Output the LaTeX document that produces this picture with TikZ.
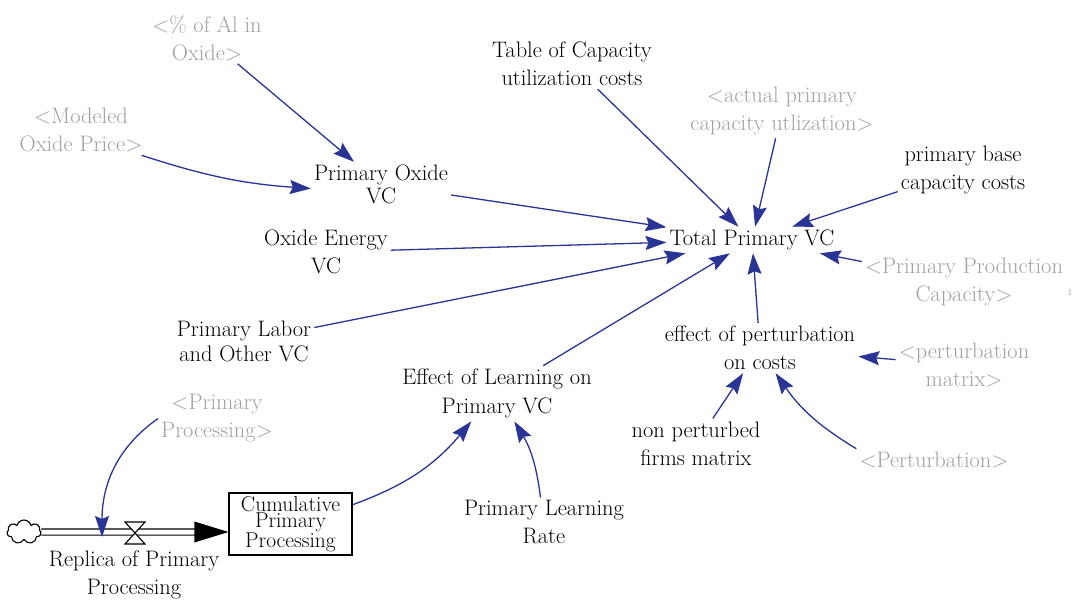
\documentclass[tikz,border=0pt]{standalone}
\usepackage{fontspec}
\setmainfont{Latin Modern Roman}
\usetikzlibrary{arrows.meta,shapes.symbols}
\definecolor{linkblue}{RGB}{42,52,148}
\definecolor{shadowgray}{RGB}{160,160,160}
\tikzset{
  lbl/.style={align=center, font=\fontsize{22.4}{28}\selectfont, inner sep=3pt, text=black},
  shadowlbl/.style={lbl, text=shadowgray},
  link/.style={draw=linkblue, line width=1.3pt, -{Stealth[length=21pt,width=14pt,inset=3pt]}},
  pipe/.style={draw=black, double=white, double distance=5pt, line width=1.1pt},
  stockbox/.style={draw=black, line width=1.2pt, align=center, minimum width=123pt, minimum height=62pt, inner sep=0pt, font=\fontsize{21.5}{16.5}\selectfont}
}
\begin{document}
\begin{tikzpicture}[x=1pt,y=1pt]
\useasboundingbox (0,0) rectangle (1077,-606);

% nodes
\node[shadowlbl] (alox) at (207,-38) {<\% of Al in\\Oxide>};
\node[shadowlbl] (mop) at (81,-130) {<Modeled\\Oxide Price>};
\node[lbl, font=\fontsize{22.4}{23}\selectfont] (pov) at (381,-184.5) {Primary Oxide\\VC};
\node[lbl] (tcap) at (572,-64) {Table of Capacity\\utilization costs};
\node[shadowlbl] (apcu) at (782,-111) {<actual primary\\capacity utlization>};
\node[lbl] (pbc) at (963,-170) {primary base\\capacity costs};
\node[lbl] (tot) at (752,-240) {Total Primary VC};
\node[lbl] (oev) at (326,-252) {Oxide Energy\\VC};
\node[shadowlbl] (ppc) at (964,-281.5) {<Primary Production\\Capacity>};
\node[font=\fontsize{9}{10}\selectfont, text=shadowgray, inner sep=1pt] (one) at (1070,-292) {1};
\node[lbl, font=\fontsize{22.4}{25}\selectfont] (plo) at (244,-341.5) {Primary Labor\\and Other VC};
\node[lbl] (eop) at (760,-348) {effect of perturbation\\on costs};
\node[shadowlbl] (pm) at (964,-365.5) {<perturbation\\matrix>};
\node[lbl, font=\fontsize{22.4}{29}\selectfont] (elp) at (497,-393.5) {Effect of Learning on\\Primary VC};
\node[shadowlbl] (pp) at (217,-418.5) {<Primary\\Processing>};
\node[lbl] (npf) at (696,-443.5) {non perturbed\\firms matrix};
\node[shadowlbl] (pert) at (934,-460) {<Perturbation>};
\node[lbl] (plr) at (544,-522.5) {Primary Learning\\Rate};
\node[stockbox] (box) at (290.5,-524) {Cumulative\\Primary\\Processing};
\node[cloud, draw, cloud puffs=7, aspect=1.4, minimum width=34pt, minimum height=24pt, line width=1.1pt, inner sep=0pt] (cloud) at (24,-532) {};
\node[lbl] (rep) at (134,-575) {Replica of Primary\\Processing};
\coordinate (valve) at (135,-533);
\coordinate (rtip) at (102,-537);
\coordinate (pend) at (cloud -| box.west);

% flow pipe
\draw[pipe] (cloud) -- ([xshift=-30pt]pend);
\fill[black] ([xshift=-34pt,yshift=10.5pt]pend) -- (pend) -- ([xshift=-34pt,yshift=-10.5pt]pend) -- cycle;
\filldraw[fill=white, draw=black, line width=1.1pt]
  ([shift={(-10,11)}]valve) -- ([shift={(10,11)}]valve) -- ([shift={(-10,-11)}]valve) -- ([shift={(10,-11)}]valve) -- cycle;

% links
\draw[link] (alox) -- (pov);
\draw[link] ([xshift=-4pt]mop.south east) to[out=-18,in=176] ([yshift=-4pt]pov.west);
\draw[link] (pov) -- (tot);
\draw[link] (tcap) -- (tot);
\draw[link] (apcu) -- (tot);
\draw[link] (pbc) -- (tot);
\draw[link] (oev) -- (tot);
\draw[link] (ppc) -- (tot);
\draw[link] (plo) -- (tot);
\draw[link] (elp) -- (tot);
\draw[link] (eop) -- (tot);
\draw[link] (pm) -- (eop);
\draw[link] (npf) -- (eop);
\draw[link] (pert.north west) to[bend left=12] (eop);
\draw[link] (plr) to[bend right=12] (elp);
\draw[link] (box) to[bend right=15] (elp);
\draw[link] (pp.west) to[out=215,in=90] (rtip);
\end{tikzpicture}
\end{document}
